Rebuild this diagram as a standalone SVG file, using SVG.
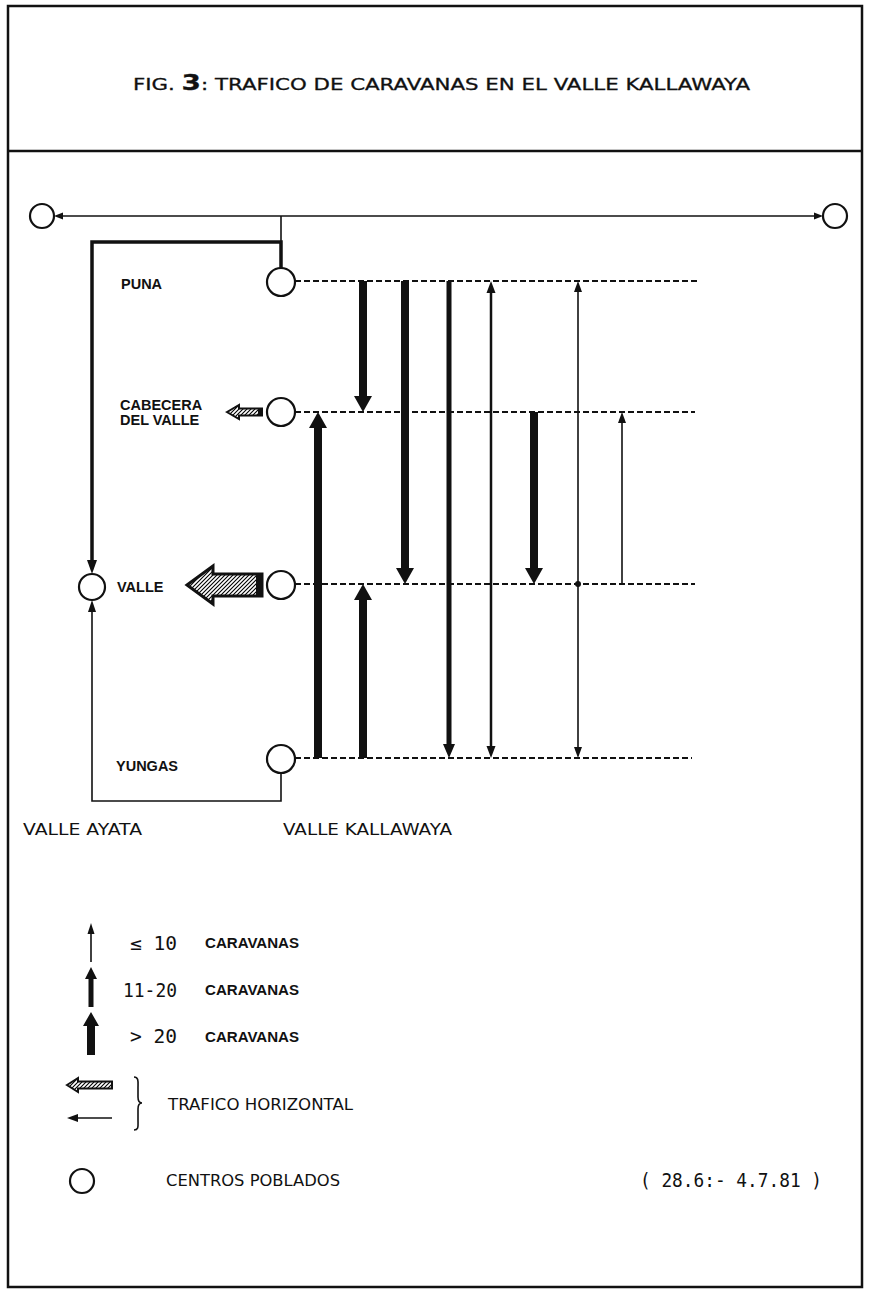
<svg xmlns="http://www.w3.org/2000/svg" width="870" height="1293" viewBox="0 0 870 1293">
<defs>
<pattern id="hatch" patternUnits="userSpaceOnUse" width="4" height="4">
<path d="M-1,1 l2,-2 M0,4 l4,-4 M3,5 l2,-2" stroke="#000" stroke-width="1.1"/>
</pattern>
</defs>
<style>
.frame{fill:none;stroke:#111;stroke-width:2.5}
.node{fill:#fff;stroke:#111;stroke-width:2.2}
.dash{stroke:#111;stroke-width:2;stroke-dasharray:6 3;fill:none}
.thin{stroke:#111;stroke-width:1.6;fill:none}
.thick{stroke:#111;stroke-width:3.5;fill:none}
.solid{fill:#111;stroke:none}
.hatch{fill:url(#hatch);stroke:#111;stroke-linejoin:miter}
.lbl{font-family:"Liberation Sans",Arial,sans-serif;font-weight:bold;font-size:14.5px;fill:#111}
.let{font-family:"DejaVu Sans","Liberation Sans",sans-serif;font-size:16px;fill:#111}
.mono{font-family:"DejaVu Sans Mono","Liberation Mono",monospace;font-size:19px;fill:#111}
</style>
<rect x="0" y="0" width="870" height="1293" fill="#fff"/>
<g id="frame">
<rect class="frame" x="8" y="6" width="854" height="1281"/>
<line class="frame" x1="8" y1="151" x2="862" y2="151"/>
</g>
<text id="title" class="let" x="133" y="90" font-size="19.5" stroke="#111" stroke-width="0.3" textLength="617" lengthAdjust="spacingAndGlyphs">FIG. <tspan font-weight="bold" font-size="21">3</tspan>: TRAFICO DE CARAVANAS EN EL VALLE KALLAWAYA</text>

<g id="connectors">
<line class="thin" x1="60" y1="216" x2="817" y2="216"/>
<polygon class="solid" points="54,216 63,212.5 63,219.5"/>
<polygon class="solid" points="823,216 814,212.5 814,219.5"/>
<line class="thin" x1="281" y1="216" x2="281" y2="242"/>
<path class="thick" d="M281,268 V242 H92 V562"/>
<polygon class="solid" points="92,574 87,560 97,560"/>
<path class="thin" d="M281,773 V801 H92 V610"/>
<polygon class="solid" points="92,600 88,612 96,612"/>
<line class="dash" x1="295" y1="281" x2="697" y2="281"/>
<line class="dash" x1="295" y1="412" x2="695" y2="412"/>
<line class="dash" x1="295" y1="584" x2="695" y2="584"/>
<line class="dash" x1="295" y1="758" x2="692" y2="758"/>
<polygon class="solid" points="314,758 314,428 309,428 318,412 327,428 322,428 322,758"/>
<polygon class="solid" points="359,281 359,396 354,396 363,412 372,396 367,396 367,281"/>
<polygon class="solid" points="401,281 401,568 396,568 405,584 414,568 409,568 409,281"/>
<polygon class="solid" points="359,758 359,600 354,600 363,584 372,600 367,600 367,758"/>
<polygon class="solid" points="530,412 530,568 525,568 534,584 543,568 538,568 538,412"/>
<polygon class="solid" points="446.5,281 446.5,744 443,744 449,758 455,744 451.5,744 451.5,281"/>
<line stroke="#111" stroke-width="2.5" x1="491" y1="290" x2="491" y2="749"/>
<polygon class="solid" points="491,281 486.5,293 495.5,293"/>
<polygon class="solid" points="491,758 486.5,746 495.5,746"/>
<line class="thin" x1="578" y1="290" x2="578" y2="749"/>
<polygon class="solid" points="578,281 574,292 582,292"/>
<polygon class="solid" points="578,758 574,747 582,747"/>
<circle class="solid" cx="578" cy="584" r="3"/>
<line class="thin" x1="622" y1="584" x2="622" y2="420"/>
<polygon class="solid" points="622,412 618,423 626,423"/>
<polygon class="hatch" stroke-width="3" points="187,585 213,566 213,574 262,574 262,596 213,596 213,604"/>
<rect class="solid" x="256" y="573" width="7" height="24"/>
<polygon class="hatch" stroke-width="2" points="227,412 239,405 239,408.5 262,408.5 262,415.5 239,415.5 239,419"/>
<rect class="solid" x="258" y="408" width="4" height="8"/>
</g>

<g id="node-left-top"><circle class="node" cx="42" cy="216" r="12"/></g>
<g id="node-right-top"><circle class="node" cx="835" cy="216" r="12"/></g>
<g id="node-puna"><circle class="node" cx="281" cy="282" r="14"/><text class="lbl" x="121" y="289">PUNA</text></g>
<g id="node-cabecera"><circle class="node" cx="281" cy="412" r="14"/><text class="lbl" x="120" y="410">CABECERA</text><text class="lbl" x="120" y="425">DEL VALLE</text></g>
<g id="node-valle"><circle class="node" cx="281" cy="585" r="14"/></g>
<g id="node-yungas"><circle class="node" cx="281" cy="759" r="14"/><text class="lbl" x="116" y="771">YUNGAS</text></g>
<g id="node-valle-ayata"><circle class="node" cx="92" cy="587" r="13"/><text class="lbl" x="117" y="592">VALLE</text></g>

<g id="labels">
<text class="let" x="23" y="835" textLength="119" lengthAdjust="spacingAndGlyphs">VALLE AYATA</text>
<text class="let" x="283" y="835" textLength="169" lengthAdjust="spacingAndGlyphs">VALLE KALLAWAYA</text>
</g>

<g id="legend">
<line class="thin" x1="91" y1="962" x2="91" y2="930"/>
<polygon class="solid" points="91,923 87.5,934 94.5,934"/>
<text class="mono" x="130" y="950" textLength="47" lengthAdjust="spacingAndGlyphs">≤ 10</text>
<text class="lbl" x="205" y="948" textLength="94" lengthAdjust="spacingAndGlyphs">CARAVANAS</text>
<polygon class="solid" points="88.5,1007 88.5,979 85,979 91,967 97,979 93.5,979 93.5,1007"/>
<text class="mono" x="123" y="997" textLength="54" lengthAdjust="spacingAndGlyphs">11-20</text>
<text class="lbl" x="205" y="995" textLength="94" lengthAdjust="spacingAndGlyphs">CARAVANAS</text>
<polygon class="solid" points="87,1055 87,1026 83,1026 91,1012 99,1026 95,1026 95,1055"/>
<text class="mono" x="130" y="1043" textLength="47" lengthAdjust="spacingAndGlyphs">&gt; 20</text>
<text class="lbl" x="205" y="1042" textLength="94" lengthAdjust="spacingAndGlyphs">CARAVANAS</text>
<polygon class="hatch" stroke-width="2" points="67,1085 78,1078 78,1081.5 112,1081.5 112,1088.5 78,1088.5 78,1092"/>
<line class="thin" x1="112" y1="1118" x2="76" y2="1118"/>
<polygon class="solid" points="67,1118 78,1114 78,1122"/>
<path class="thin" stroke-width="1.4" d="M134,1077 C139,1077 138,1082 138,1088 L138,1097 C138,1101 140,1103 142,1103 C140,1103 138,1105 138,1109 L138,1120 C138,1126 139,1130 134,1130"/>
<text class="let" x="168" y="1110" font-size="15" textLength="185" lengthAdjust="spacingAndGlyphs">TRAFICO HORIZONTAL</text>
<circle class="node" cx="82" cy="1181" r="12"/>
<text class="let" x="166" y="1186" font-size="15" textLength="174" lengthAdjust="spacingAndGlyphs">CENTROS POBLADOS</text>
<text class="mono" x="640" y="1187" textLength="182" lengthAdjust="spacingAndGlyphs">( 28.6:- 4.7.81 )</text>
</g>
</svg>
